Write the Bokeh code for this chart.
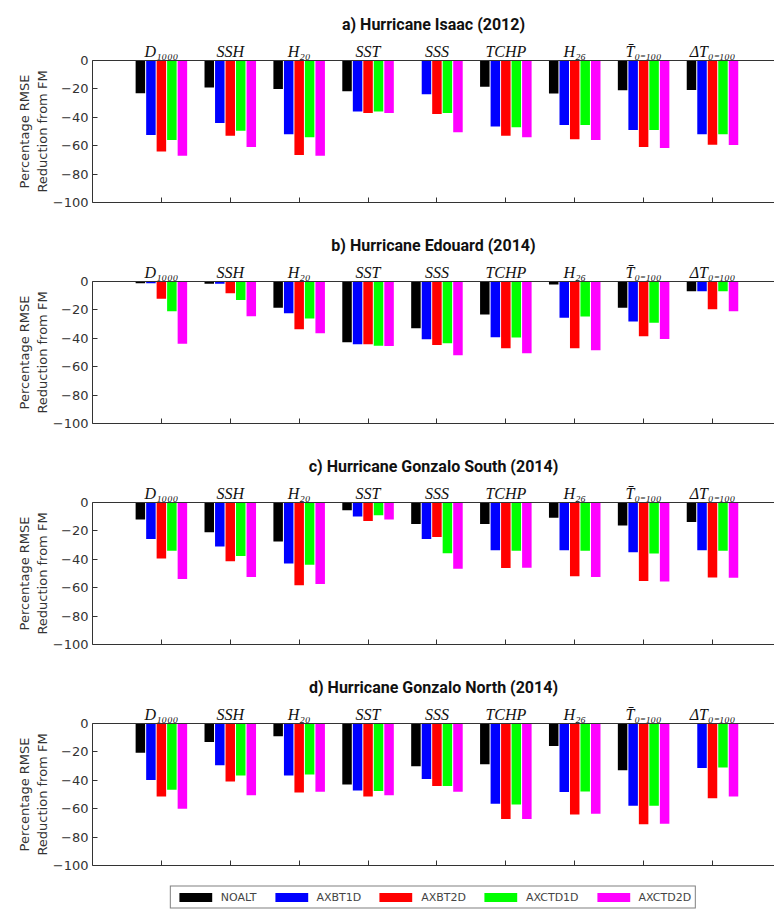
from bokeh.plotting import figure
from bokeh.models import (FixedTicker, ColumnDataSource, Legend, LegendItem, Range1d,
                          LinearAxis)
from bokeh.layouts import column
from bokeh.transform import dodge
from bokeh.embed import file_html
from bokeh.resources import INLINE

# ---------------- data ----------------
cat_labels = ["D\u2081\u2080\u2080\u2080", "SSH", "H\u2082\u2080", "SST", "SSS", "TCHP",
              "H\u2082\u2086", "T\u0304\u2080\u208b\u2081\u2080\u2080",
              "\u0394T\u2080\u208b\u2081\u2080\u2080"]
series_names = ["NOALT", "AXBT1D", "AXBT2D", "AXCTD1D", "AXCTD2D"]
series_colors = ["#000000", "#0000ff", "#ff0000", "#00ff00", "#ff00ff"]
panel_titles = ["a) Hurricane Isaac (2012)", "b) Hurricane Edouard (2014)",
                "c) Hurricane Gonzalo South (2014)", "d) Hurricane Gonzalo North (2014)"]
y_ticks = [-100, -80, -60, -40, -20, 0]

noalt_a = [-23, -19, -20, -21.6, 0, -18.4, -23.3, -21, -20.7]
axbt1d_a = [-52.5, -44, -52, -36, -23.8, -46.4, -45.4, -49, -52]
axbt2d_a = [-64, -53, -66.5, -37, -37.6, -53, -55.5, -61, -59.3]
axctd1d_a = [-56, -49.5, -54, -36, -37, -47, -45.4, -49, -52]
axctd2d_a = [-67, -61, -67, -37, -50.6, -54, -56, -61.6, -59.5]

noalt_b = [-1.2, -1.6, -18.4, -42.8, -33, -23.3, -2.1, -18.4, -6.8]
axbt1d_b = [-1.2, -1.6, -22.4, -44.2, -40.7, -39.3, -25.6, -28.2, -6.8]
axbt2d_b = [-12.2, -8.2, -33.6, -44.2, -44.7, -47, -47, -38.6, -19.5]
axctd1d_b = [-21, -13, -26, -45.2, -43.5, -39.5, -24.7, -29, -6.8]
axctd2d_b = [-43.8, -24.5, -36.5, -45.4, -52, -50.6, -48.5, -40.5, -21]

noalt_c = [-12, -21, -27.4, -5.5, -15.2, -15.2, -10.7, -16.2, -13.8]
axbt1d_c = [-25.7, -31, -42.9, -9.8, -25.7, -33.6, -33.6, -35, -33.6]
axbt2d_c = [-39.5, -41.4, -58.3, -13, -24.3, -46.2, -52, -55.2, -52.9]
axctd1d_c = [-34, -37.6, -43.8, -9, -35.7, -34, -34, -36, -34]
axctd2d_c = [-53.8, -52.4, -57.4, -12, -46.7, -46, -52.4, -55.7, -53]

noalt_d = [-20.6, -13, -9, -42.9, -30.1, -28.7, -15.9, -32.9, 0]
axbt1d_d = [-39.8, -29.4, -36.7, -47.2, -39, -56.6, -48.3, -58, -31.3]
axbt2d_d = [-51.4, -40.8, -48.6, -51.4, -44, -67.3, -64, -71, -52.6]
axctd1d_d = [-46.7, -36.7, -36, -47.6, -44, -57.1, -47.9, -58, -31]
axctd2d_d = [-60, -50.5, -48.1, -50.5, -48.1, -67.3, -63.5, -70.6, -51.4]

panels = [
    [noalt_a, axbt1d_a, axbt2d_a, axctd1d_a, axctd2d_a],
    [noalt_b, axbt1d_b, axbt2d_b, axctd1d_b, axctd2d_b],
    [noalt_c, axbt1d_c, axbt2d_c, axctd1d_c, axctd2d_c],
    [noalt_d, axbt1d_d, axbt2d_d, axctd1d_d, axctd2d_d],
]

# ---------------- styling ----------------
AX = "#333333"
cat_x = list(range(1, len(cat_labels) + 1))
offsets = [-0.305, -0.152, 0.0, 0.152, 0.305]
BAR_W = 0.138
FRAME_H = 142
FIG_W = 774
LEFT = 92
X_END = 9.9

figs = []
sources_last = []
for pi, (title, vals) in enumerate(zip(panel_titles, panels)):
    p = figure(width=FIG_W, frame_height=FRAME_H,
               min_border_left=LEFT, min_border_right=0,
               min_border_top=60, min_border_bottom=19,
               x_range=Range1d(0, X_END), y_range=Range1d(-100, 0),
               output_backend="svg", toolbar_location=None,
               title=title)
    p.outline_line_color = None
    p.xgrid.grid_line_color = None
    p.ygrid.grid_line_color = None
    p.title.align = "center"
    p.title.text_font = "Roboto"
    p.title.text_font_style = "bold"
    p.title.text_font_size = "16px"
    p.title.text_color = "#111111"
    p.title.standoff = 12

    srcs = []
    for si, col in enumerate(series_colors):
        src = ColumnDataSource(dict(x=cat_x, v=vals[si]))
        p.vbar(x=dodge("x", offsets[si]), width=BAR_W, top=0, bottom="v",
               source=src, fill_color=col, line_color=None)
        srcs.append(src)
    sources_last = srcs

    bot = p.below[0]
    bot.axis_label = None
    bot.axis_label_standoff = 0
    bot.ticker = FixedTicker(ticks=cat_x)
    bot.major_label_overrides = {i: "" for i in cat_x}
    bot.major_label_standoff = 0
    bot.major_label_text_font_size = "8px"
    bot.major_tick_in = 5
    bot.major_tick_out = 0
    bot.minor_tick_line_color = None
    bot.axis_line_color = AX
    bot.major_tick_line_color = AX

    ya = p.left[0]
    ya.ticker = FixedTicker(ticks=y_ticks)
    ya.major_tick_in = 5
    ya.major_tick_out = 0
    ya.minor_tick_line_color = None
    ya.axis_line_color = AX
    ya.major_tick_line_color = AX
    ya.major_label_standoff = 4
    ya.major_label_text_font = "DejaVu Sans"
    ya.major_label_text_font_size = "13px"
    ya.major_label_text_color = AX
    ya.axis_label = "Percentage RMSE\nReduction from FM"
    ya.axis_label_text_font = "DejaVu Sans"
    ya.axis_label_text_font_size = "13px"
    ya.axis_label_text_font_style = "normal"
    ya.axis_label_text_color = AX
    ya.axis_label_standoff = 0

    # top axis: box line + category labels
    top = LinearAxis(ticker=FixedTicker(ticks=cat_x),
                     major_label_overrides={i: s for i, s in zip(cat_x, cat_labels)})
    top.axis_label = None
    top.major_tick_in = 0
    top.major_tick_out = 0
    top.minor_tick_line_color = None
    top.axis_line_color = AX
    top.major_label_standoff = 1
    top.major_label_text_font = "Liberation Serif"
    top.major_label_text_font_style = "italic"
    top.major_label_text_font_size = "16px"
    top.major_label_text_color = "#111111"
    p.add_layout(top, "above")
    figs.append(p)

# legend strip: series renderers share panel d's data, whose bars lie below this
# strip's y range, so only the legend keys show here
pl = figure(width=FIG_W, height=25, min_border_left=LEFT, min_border_right=0,
            min_border_top=0, min_border_bottom=0,
            x_range=Range1d(0, X_END), y_range=Range1d(1, 2),
            x_axis_type=None, y_axis_type=None,
            output_backend="svg", toolbar_location=None)
pl.outline_line_color = None
pl.xgrid.grid_line_color = None
pl.ygrid.grid_line_color = None
items = []
for si, (name, col) in enumerate(zip(series_names, series_colors)):
    r = pl.vbar(x=dodge("x", offsets[si]), width=BAR_W, top=0, bottom="v",
                source=sources_last[si], fill_color=col, line_color=None)
    items.append(LegendItem(label=name, renderers=[r]))
leg = Legend(items=items, orientation="horizontal", location="center",
             glyph_width=41, glyph_height=11,
             label_text_font="DejaVu Sans", label_text_font_size="11px",
             label_height=11, spacing=14, label_standoff=5, padding=4,
             margin=0, border_line_color="#000000", border_line_width=1)
pl.add_layout(leg, "center")
figs.append(pl)

layout = column(*figs, spacing=0)
open("out.html", "w").write(file_html(layout, INLINE))
